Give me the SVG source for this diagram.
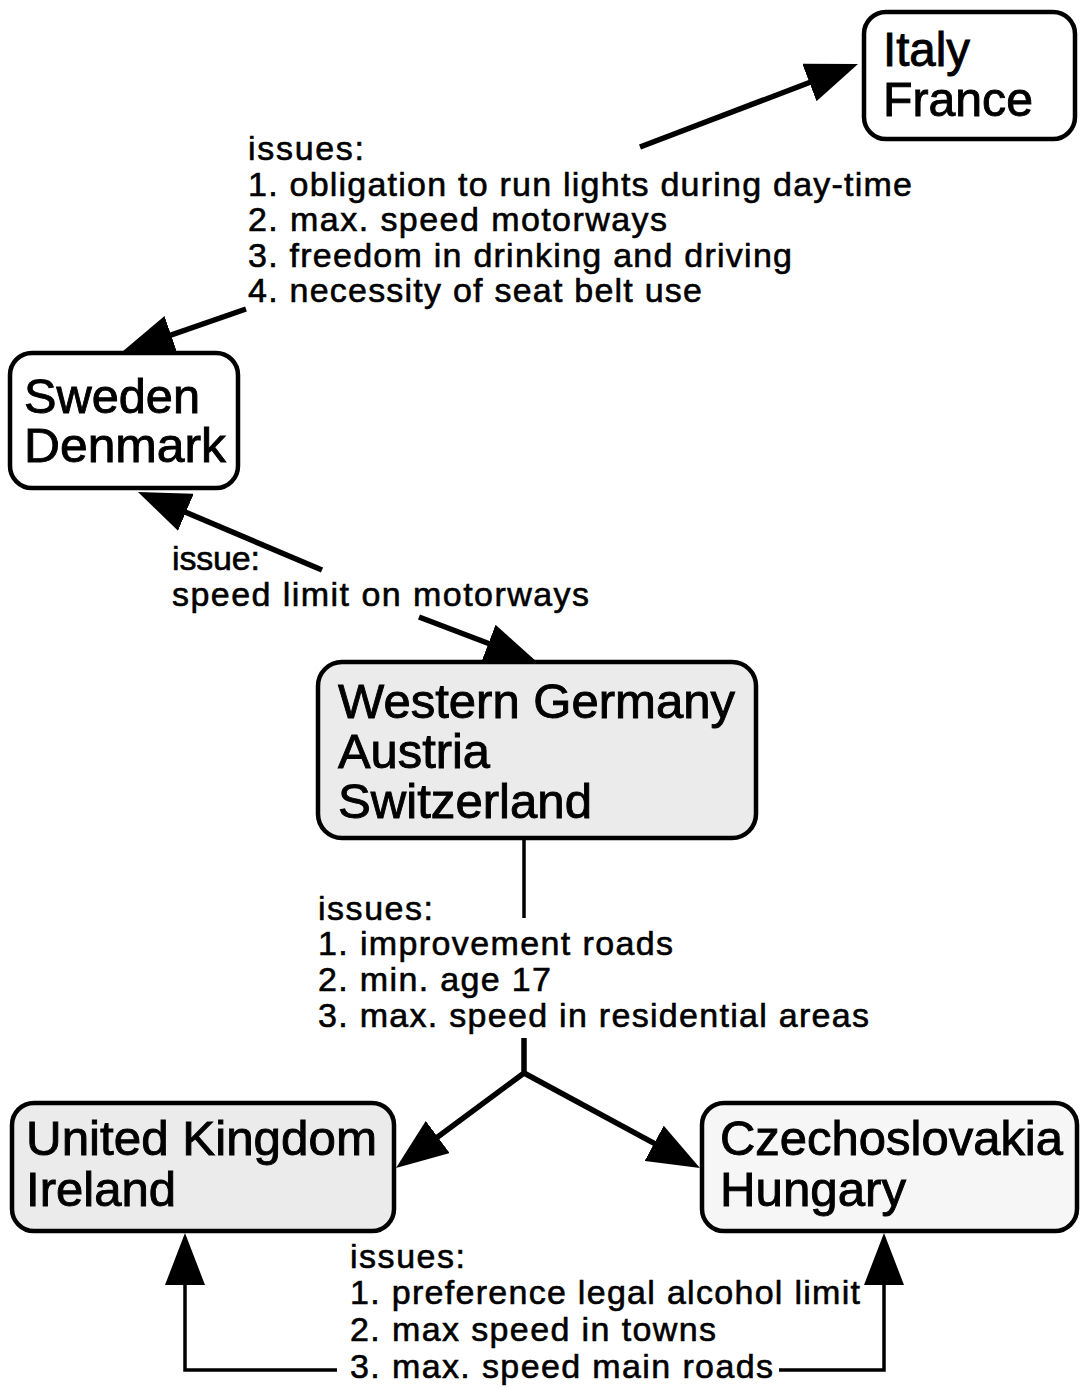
<svg xmlns="http://www.w3.org/2000/svg" width="1080" height="1389" viewBox="0 0 1080 1389">
<style>
.box{fill:#fff;stroke:#000;stroke-width:4.5}
.shade{fill:#ebebeb}
.light{fill:#f6f6f6}
.nt{font-family:"Liberation Sans",Arial,sans-serif;font-size:48px;fill:#000;stroke:#000;stroke-width:0.9}
.lt{font-family:"Liberation Sans",Arial,sans-serif;font-size:34px;fill:#000;stroke:#000;stroke-width:0.6}
.conn{fill:none;stroke:#000;stroke-width:5.5}
.thin{fill:none;stroke:#000;stroke-width:3.5}
</style>
<defs>
<marker id="ah" markerUnits="userSpaceOnUse" viewBox="0 0 52 40" markerWidth="52" markerHeight="40" refX="40" refY="20" orient="auto">
<path d="M0,0 L52,20 L0,40 z" fill="#000"/>
</marker>
</defs>
<rect width="1080" height="1389" fill="#fff"/>
<g id="connectors">
<path class="conn" d="M640,147 L846.8,68.3" marker-end="url(#ah)"/>
<path class="conn" d="M246,309 L133.3,348.1" marker-end="url(#ah)"/>
<path class="conn" d="M322,570 L149,496.7" marker-end="url(#ah)"/>
<path class="conn" d="M419,617 L525.8,657.7" marker-end="url(#ah)"/>
<path class="thin" d="M524,838 L524,918"/>
<path class="conn" d="M524,1038 L524,1073 L405.6,1160.8" marker-end="url(#ah)"/>
<path class="conn" d="M524,1073 L689.4,1162.3" marker-end="url(#ah)"/>
<path class="thin" d="M337,1370 L185,1370 L185,1245" marker-end="url(#ah)"/>
<path class="thin" d="M779,1370 L884,1370 L884,1245" marker-end="url(#ah)"/>
</g>
<g id="italy-france">
<rect class="box" x="864" y="12" width="211" height="127" rx="22"/>
<text class="nt" x="883" y="66" textLength="87" lengthAdjust="spacingAndGlyphs">Italy</text>
<text class="nt" x="883" y="116" textLength="150" lengthAdjust="spacingAndGlyphs">France</text>
</g>
<g id="sweden-denmark">
<rect class="box" x="10" y="353" width="228" height="135" rx="22"/>
<text class="nt" x="24" y="413" textLength="176" lengthAdjust="spacingAndGlyphs">Sweden</text>
<text class="nt" x="24" y="462" textLength="202" lengthAdjust="spacingAndGlyphs">Denmark</text>
</g>
<g id="germany-austria-switzerland">
<rect class="box shade" x="318" y="662" width="438" height="176" rx="24"/>
<text class="nt" x="338" y="718" textLength="397" lengthAdjust="spacingAndGlyphs">Western Germany</text>
<text class="nt" x="338" y="768" textLength="152" lengthAdjust="spacingAndGlyphs">Austria</text>
<text class="nt" x="338" y="818" textLength="254" lengthAdjust="spacingAndGlyphs">Switzerland</text>
</g>
<g id="uk-ireland">
<rect class="box shade" x="12" y="1103" width="382" height="128" rx="22"/>
<text class="nt" x="26" y="1155" textLength="351" lengthAdjust="spacingAndGlyphs">United Kingdom</text>
<text class="nt" x="26" y="1206" textLength="150" lengthAdjust="spacingAndGlyphs">Ireland</text>
</g>
<g id="czechoslovakia-hungary">
<rect class="box light" x="702" y="1103" width="375" height="128" rx="22"/>
<text class="nt" x="720" y="1155" textLength="343" lengthAdjust="spacingAndGlyphs">Czechoslovakia</text>
<text class="nt" x="720" y="1206" textLength="186" lengthAdjust="spacingAndGlyphs">Hungary</text>
</g>
<g id="labels">
<text class="lt" x="248" y="160" textLength="116">issues:</text>
<text class="lt" x="248" y="196" textLength="664">1. obligation to run lights during day-time</text>
<text class="lt" x="248" y="231" textLength="419">2. max. speed motorways</text>
<text class="lt" x="248" y="267" textLength="544">3. freedom in drinking and driving</text>
<text class="lt" x="248" y="302" textLength="454">4. necessity of seat belt use</text>
<text class="lt" x="172" y="570" textLength="88">issue:</text>
<text class="lt" x="172" y="606" textLength="417">speed limit on motorways</text>
<text class="lt" x="318" y="920" textLength="115">issues:</text>
<text class="lt" x="318" y="955" textLength="355">1. improvement roads</text>
<text class="lt" x="318" y="991" textLength="233">2. min. age 17</text>
<text class="lt" x="318" y="1027" textLength="551">3. max. speed in residential areas</text>
<text class="lt" x="350" y="1268" textLength="115">issues:</text>
<text class="lt" x="350" y="1304" textLength="510">1. preference legal alcohol limit</text>
<text class="lt" x="350" y="1341" textLength="366">2. max speed in towns</text>
<text class="lt" x="350" y="1378" textLength="423">3. max. speed main roads</text>
</g>
</svg>
